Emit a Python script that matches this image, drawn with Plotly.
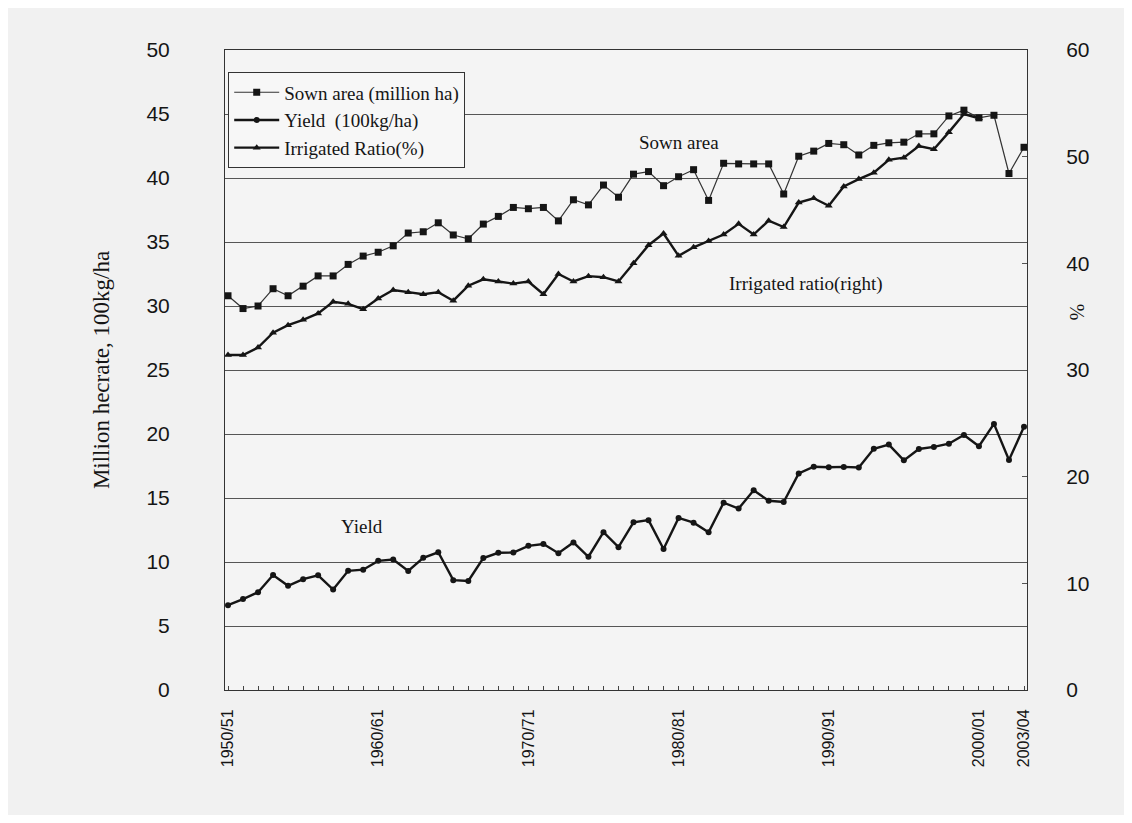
import plotly.graph_objects as go

seasons = [
    "1950/51", "1951/52", "1952/53", "1953/54", "1954/55", "1955/56", "1956/57", "1957/58", "1958/59", "1959/60",
    "1960/61", "1961/62", "1962/63", "1963/64", "1964/65", "1965/66", "1966/67", "1967/68", "1968/69", "1969/70",
    "1970/71", "1971/72", "1972/73", "1973/74", "1974/75", "1975/76", "1976/77", "1977/78", "1978/79", "1979/80",
    "1980/81", "1981/82", "1982/83", "1983/84", "1984/85", "1985/86", "1986/87", "1987/88", "1988/89", "1989/90",
    "1990/91", "1991/92", "1992/93", "1993/94", "1994/95", "1995/96", "1996/97", "1997/98", "1998/99", "1999/00",
    "2000/01", "2001/02", "2002/03", "2003/04",
]

sown_area = [
    30.8, 29.8, 30.0, 31.35, 30.8, 31.55, 32.35, 32.35, 33.25, 33.9,
    34.2, 34.7, 35.7, 35.8, 36.5, 35.55, 35.25, 36.4, 37.0, 37.7,
    37.6, 37.7, 36.65, 38.3, 37.9, 39.45, 38.5, 40.3, 40.5, 39.4,
    40.1, 40.65, 38.25, 41.15, 41.1, 41.1, 41.1, 38.75, 41.7, 42.1,
    42.7, 42.6, 41.8, 42.55, 42.75, 42.8, 43.45, 43.45, 44.85, 45.3,
    44.7, 44.9, 40.35, 42.4,
]

yield_q = [
    6.63, 7.1, 7.64, 8.98, 8.14, 8.66, 8.96, 7.85, 9.31, 9.4,
    10.09, 10.2, 9.3, 10.33, 10.76, 8.58, 8.52, 10.31, 10.72, 10.74,
    11.26, 11.41, 10.69, 11.53, 10.41, 12.33, 11.16, 13.1, 13.27, 11.02,
    13.44, 13.07, 12.33, 14.63, 14.18, 15.6, 14.78, 14.69, 16.92, 17.44,
    17.4, 17.43, 17.39, 18.84, 19.17, 17.94, 18.83, 18.99, 19.24, 19.92,
    19.04, 20.79, 17.97, 20.56,
]

irrigated_ratio = [
    31.4, 31.4, 32.1, 33.5, 34.2, 34.7, 35.3, 36.4, 36.2, 35.7,
    36.7, 37.5, 37.3, 37.1, 37.3, 36.5, 37.9, 38.5, 38.3, 38.1,
    38.3, 37.1, 39.0, 38.3, 38.8, 38.7, 38.3, 40.0, 41.7, 42.8,
    40.7, 41.5, 42.1, 42.7, 43.7, 42.7, 44.0, 43.4, 45.7, 46.1,
    45.4, 47.2, 47.9, 48.5, 49.7, 49.9, 51.0, 50.7, 52.3, 54.0,
    53.6, None, None, None,
]

labelled_seasons = ["1950/51", "1960/61", "1970/71", "1980/81", "1990/91", "2000/01", "2003/04"]

SERIF = "Liberation Serif"
SANS = "Liberation Sans"
INK = "#151515"

fig = go.Figure()

fig.add_trace(go.Scatter(
    x=seasons, y=sown_area, name="Sown area (million ha)", mode="lines+markers",
    line=dict(color="#333333", width=1.2),
    marker=dict(symbol="square", size=7, color=INK),
    cliponaxis=False,
))
fig.add_trace(go.Scatter(
    x=seasons, y=yield_q, name="Yield  (100kg/ha)", mode="lines+markers",
    line=dict(color=INK, width=2.4),
    marker=dict(symbol="circle", size=6, color=INK),
    cliponaxis=False,
))
fig.add_trace(go.Scatter(
    x=seasons, y=irrigated_ratio, name="Irrigated Ratio(%)", mode="lines+markers",
    line=dict(color=INK, width=2.4),
    marker=dict(symbol="triangle-up", size=7, color=INK),
    yaxis="y2", cliponaxis=False,
))

ticktext = [s if s in labelled_seasons else "" for s in seasons]

fig.update_layout(
    width=1116, height=807,
    margin=dict(l=217, r=97, t=42, b=125),
    paper_bgcolor="#f1f1f1",
    plot_bgcolor="#f4f4f4",
    showlegend=True,
    legend=dict(
        x=0.004, y=0.965, xanchor="left", yanchor="top",
        bgcolor="#f7f7f7", bordercolor="#333333", borderwidth=1,
        font=dict(family=SERIF, size=19, color=INK),
        tracegroupgap=0, itemsizing="trace", itemwidth=45,
    ),
    xaxis=dict(
        type="category",
        range=[-0.2, 53.2],
        tickmode="array", tickvals=seasons, ticktext=ticktext,
        tickangle=-90,
        tickfont=dict(family=SANS, size=16, color=INK),
        ticklabelstandoff=12,
        ticks="inside", ticklen=4, tickcolor="#444444",
        showgrid=False, showline=True, linecolor="#333333", linewidth=1,
        mirror=True, zeroline=False,
    ),
    yaxis=dict(
        range=[0, 50], dtick=5,
        tickfont=dict(family=SANS, size=21, color=INK),
        ticklabelstandoff=50,
        showgrid=True, gridcolor="#555555", gridwidth=1,
        showline=True, linecolor="#333333", linewidth=1,
        zeroline=False, ticks="",
        title=dict(text="Million hecrate, 100kg/ha", font=dict(family=SERIF, size=23, color=INK), standoff=30),
    ),
    yaxis2=dict(
        range=[0, 60], dtick=10, overlaying="y", side="right",
        tickfont=dict(family=SANS, size=21, color=INK),
        ticklabelstandoff=34,
        showgrid=False, showline=True, linecolor="#333333", linewidth=1,
        zeroline=False, ticks="inside", ticklen=5, tickcolor="#555555",
    ),
    annotations=[
        dict(x="1980/81", y=42.8, xref="x", yref="y", text="Sown area", showarrow=False,
             font=dict(family=SERIF, size=19, color=INK)),
        dict(x=38.5, y=31.7, xref="x", yref="y", text="Irrigated ratio(right)", showarrow=False,
             font=dict(family=SERIF, size=19, color=INK)),
        dict(x=8.9, y=12.8, xref="x", yref="y", text="Yield", showarrow=False,
             font=dict(family=SERIF, size=19, color=INK)),
        dict(x=1.078, y=0.59, xref="paper", yref="paper", text="%", textangle=90, showarrow=False,
             font=dict(family=SERIF, size=20, color=INK)),
    ],
)

fig.write_html("out.html")
